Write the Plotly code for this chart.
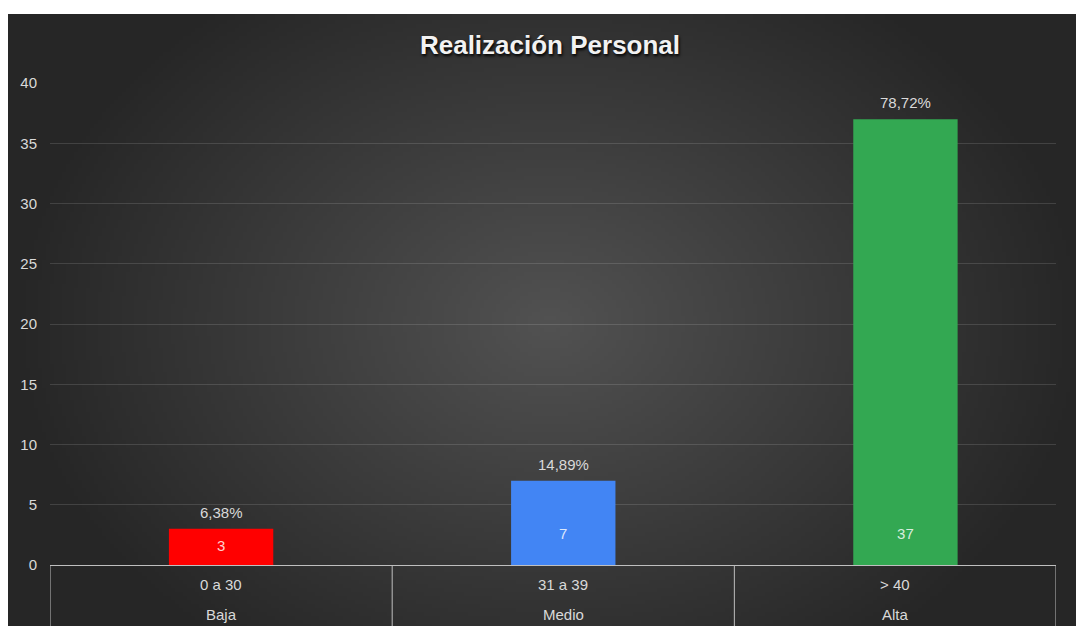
import base64
import struct
import zlib

import numpy as np
import plotly.graph_objects as go

# ---- data ----
niveles = ["Baja", "Medio", "Alta"]
rangos = ["0 a 30", "31 a 39", "> 40"]
cantidades = [3, 7, 37]
porcentajes = ["6,38%", "14,89%", "78,72%"]
colores = ["#ff0000", "#4285f4", "#33a852"]


def _png_uri(arr):
    h, w, _ = arr.shape
    raw = b"".join(b"\x00" + arr[i].tobytes() for i in range(h))

    def chunk(tag, data):
        return (struct.pack(">I", len(data)) + tag + data
                + struct.pack(">I", zlib.crc32(tag + data) & 0xffffffff))

    png = (b"\x89PNG\r\n\x1a\n"
           + chunk(b"IHDR", struct.pack(">IIBBBBB", w, h, 8, 2, 0, 0, 0))
           + chunk(b"IDAT", zlib.compress(raw))
           + chunk(b"IEND", b""))
    return "data:image/png;base64," + base64.b64encode(png).decode()


# radial dark background (lighter in the middle)
W, H = 270, 155
gx, gy = np.meshgrid(np.linspace(-1, 1, W), np.linspace(-1, 1, H))
r = np.clip(np.sqrt(gx ** 2 + (0.75 * gy) ** 2), 0, 1)
val = 38 + 44 * (1 - r) ** 1.0
bg = np.repeat(val[:, :, None], 3, axis=2).astype(np.uint8)
bg_uri = _png_uri(bg)

# plot box (figure px): l=42, t=75, w=1006, h=482
PW, PH = 1006, 482
X_END = 2.44  # the chart is cut a bit short on the right, as in the source
label_y = [min(v / 2, 2.5) for v in cantidades]

fig = go.Figure()
fig.add_trace(go.Bar(
    x=rangos, y=cantidades, width=0.305,
    marker=dict(color=colores, line=dict(width=0)),
    hoverinfo="skip", showlegend=False,
))
# counts near the base of each bar
fig.add_trace(go.Scatter(
    x=rangos, y=label_y, mode="text", text=[str(v) for v in cantidades],
    textfont=dict(color="rgba(255,255,255,0.82)", size=15),
    hoverinfo="skip", showlegend=False,
))

# percentages above bars
for rg, v, p in zip(rangos, cantidades, porcentajes):
    fig.add_annotation(x=rg, y=v, text=p, showarrow=False, yanchor="bottom",
                       yshift=6, font=dict(color="#d9d9d9", size=15))

# two-row category table under the axis
bounds = [i - 0.5 for i in range(len(rangos))] + [X_END]
for i, (rg, nv) in enumerate(zip(rangos, niveles)):
    xc = (bounds[i] + bounds[i + 1]) / 2
    fig.add_annotation(x=xc, y=0, yref="paper", text=rg, showarrow=False,
                       yanchor="middle", yshift=-19, font=dict(color="#d9d9d9", size=15))
    fig.add_annotation(x=xc, y=0, yref="paper", text=nv, showarrow=False,
                       yanchor="middle", yshift=-49, font=dict(color="#d9d9d9", size=15))
for b in bounds:
    fig.add_shape(type="line", xref="x", yref="paper", x0=b, x1=b,
                  y0=0, y1=-70 / PH, line=dict(color="#bfbfbf", width=1))

fig.add_layout_image(dict(
    source=bg_uri, xref="paper", yref="paper",
    x=-42 / PW, y=(557 - 6) / PH,
    sizex=1084 / PW, sizey=620 / PH,
    sizing="stretch", xanchor="left", yanchor="top", layer="below",
))

fig.update_layout(
    width=1084, height=626,
    margin=dict(l=42, r=36, t=75, b=69),
    paper_bgcolor="white", plot_bgcolor="rgba(0,0,0,0)",
    font=dict(family="Liberation Sans, Arial, sans-serif", color="#d9d9d9", size=15),
    title=dict(
        text="<b>Realización Personal</b>", x=0.5, xanchor="center",
        y=1 - 37 / 626, yanchor="middle", xref="container", yref="container",
        font=dict(size=26, color="#f2f2f2", shadow="1px 2px 3px #000000"),
    ),
    showlegend=False,
)
fig.update_xaxes(
    type="category", range=[-0.5, X_END],
    showline=True, linecolor="#bfbfbf", linewidth=1,
    showgrid=False, ticks="", showticklabels=False,
)
fig.update_yaxes(
    range=[0, 40], dtick=5, showgrid=True, gridcolor="rgba(255,255,255,0.13)",
    zeroline=False, showline=False, ticks="",
    tickfont=dict(color="#d9d9d9", size=15), ticklabelstandoff=12,
)

fig.write_html("out.html")
